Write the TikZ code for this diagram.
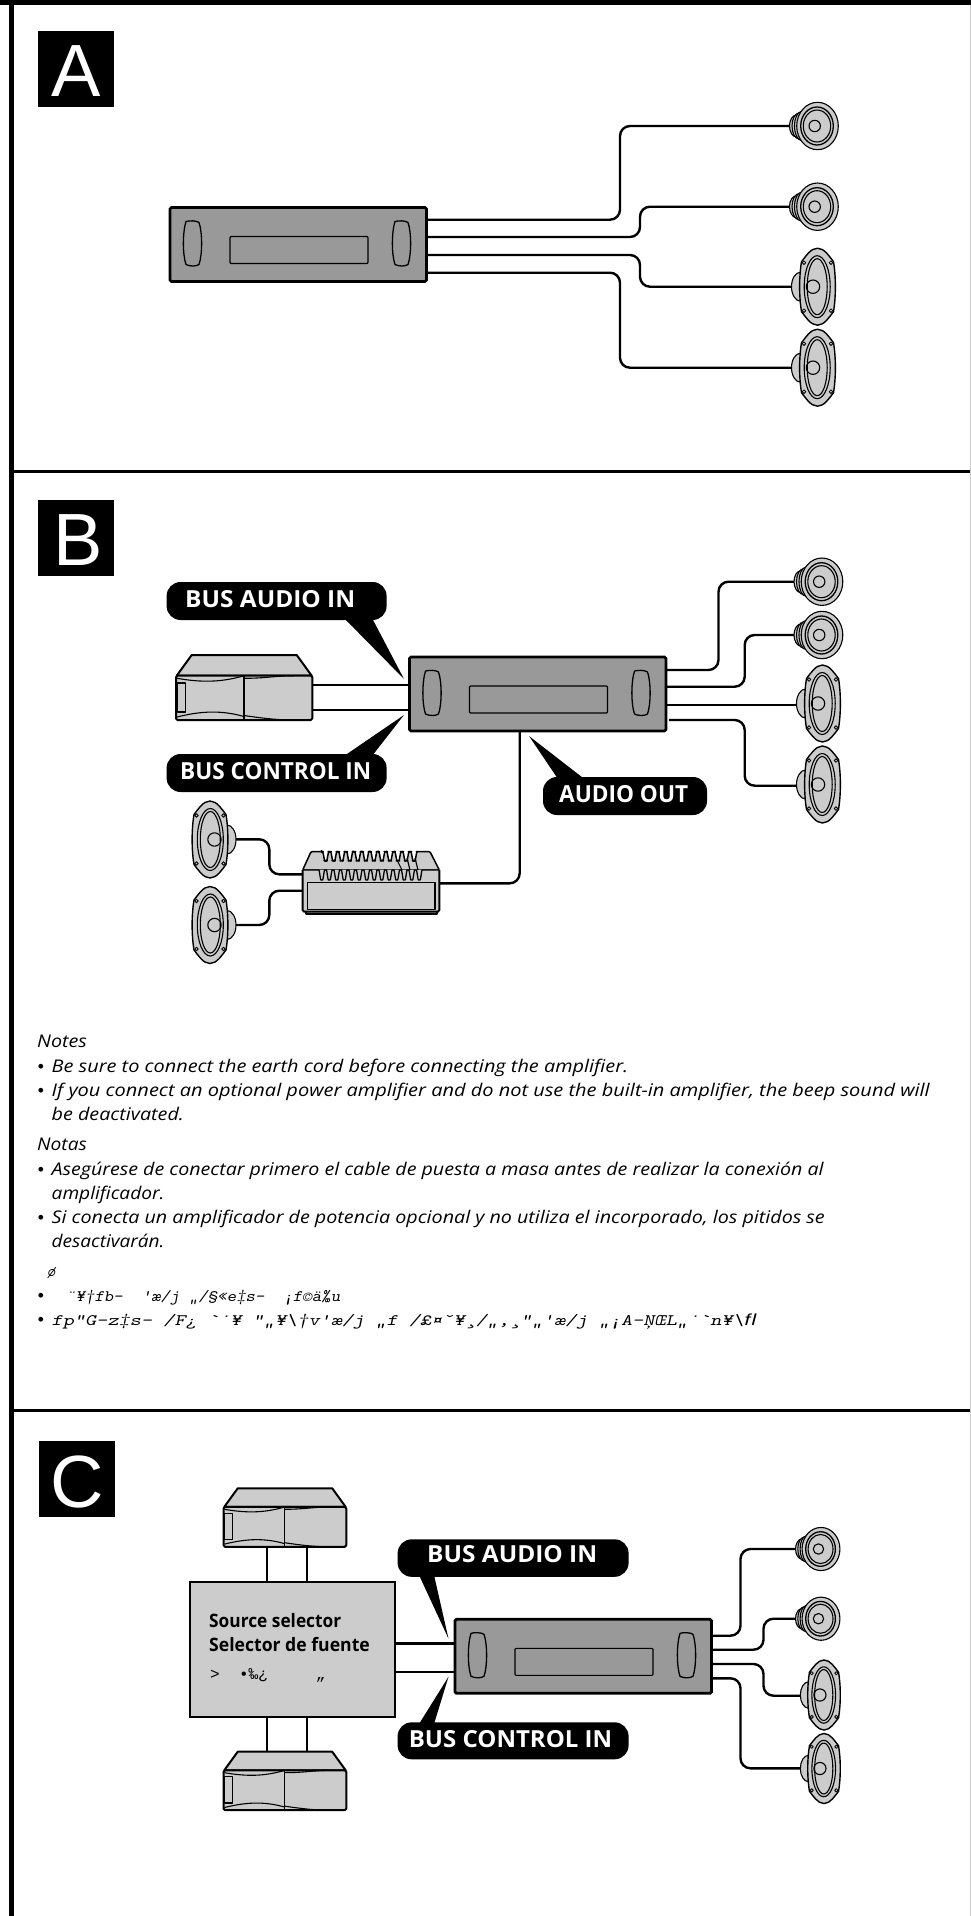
\documentclass[tikz,border=0pt]{standalone}
\usepackage{fontspec}
\usepackage{graphicx}
\setmainfont{Open Sans}
\newfontfamily\helvf{Liberation Sans}
\newfontfamily\monof{Liberation Mono}
\definecolor{darkg}{HTML}{999999}
\definecolor{lightg}{HTML}{CCCCCC}
\newcommand\noteline[5]{\node[notetext,anchor=base west] (#1) at (#2,#3) {\resizebox{#4pt}{\height}{#5}};}
\newcommand\calltext[5]{\node[callfont,anchor=base west] (#1) at (#2,#3) {\resizebox{#4pt}{\height}{#5}};}
\tikzset{
  x=1pt,y=-1pt,
  wire/.style={line width=2.4pt,rounded corners=10pt,black},
  hvh/.style={to path={-- (#1,0 |- \tikztostart) -- (#1,0 |- \tikztotarget) -- (\tikztotarget)}},
  hline/.style={line width=2.4pt,black},
  heavy/.style={line width=2pt,black,line join=round},
  fine/.style={line width=1.1pt,black,line join=round},
  hubody/.style={draw=black,line width=2.8pt,fill=darkg,rounded corners=1.5pt,minimum width=256.5pt,minimum height=74pt,inner sep=0pt,outer sep=0pt},
  letterbox/.style={fill=black,minimum width=76pt,minimum height=76pt,inner sep=0pt,outer sep=0pt},
  letterfont/.style={white,inner sep=0pt,font=\helvf\fontsize{74}{74}\selectfont},
  callbox/.style={fill=black,rounded corners=14pt,inner sep=0pt,outer sep=0pt},
  callfont/.style={white,inner sep=0pt,font=\bfseries\fontsize{23.5}{26}\selectfont},
  notetext/.style={inner sep=0pt,font=\itshape\fontsize{17.5}{20}\selectfont},
  bulletfont/.style={inner sep=0pt,font=\helvf\fontsize{17.5}{20}\selectfont},
  garble/.style={inner sep=0pt,font=\ttfamily\slshape\fontsize{16}{20}\selectfont},
  selfont/.style={inner sep=0pt,font=\bfseries\fontsize{18.5}{22}\selectfont},
  pics/headunit/.style={code={
    \node[hubody,anchor=north west] (-body) at (0,0) {};
    \draw[fine,rounded corners=1pt] (60,29) rectangle (198,56);
    \foreach \kx in {0,209}{
      \draw[fine,line width=1.3pt] (\kx+16,14) .. controls (\kx+20,13) and (\kx+26,13) .. (\kx+29,15) .. controls (\kx+32.5,25) and (\kx+32.5,47) .. (\kx+29,57) .. controls (\kx+26,59) and (\kx+20,59) .. (\kx+16,57) .. controls (\kx+12.5,47) and (\kx+12.5,25) .. (\kx+16,14) -- cycle;
    }
  }},
  pics/roundspk/.style={code={
    \draw[fine,fill=lightg] (-21,0) ellipse [x radius=7,y radius=11];
    \draw[fine,fill=lightg] (-18.5,0) ellipse [x radius=7,y radius=13];
    \draw[fine,fill=lightg] (-16,0) ellipse [x radius=7,y radius=14.5];
    \draw[fine,fill=lightg] (0,0) ellipse [x radius=20.8,y radius=23.7];
    \draw[heavy,line width=1.3pt] (-.5,0) ellipse [x radius=16.3,y radius=19];
    \draw[fine] (-.5,0) ellipse [x radius=13.7,y radius=16];
    \draw[fine] (-2.8,0) circle [radius=5.7];
  }},
  pics/ovalspk/.style={code={
    \draw[fine,fill=lightg] (-17,0) ellipse [x radius=9,y radius=14.5];
    \draw[fine,line width=1.4pt,fill=lightg] (0,-38.5) .. controls (7,-38.5) and (12,-30) .. (16,-25) .. controls (18.5,-10) and (18.5,10) .. (16,25) .. controls (12,30) and (7,38.5) .. (0,38.5) .. controls (-7,38.5) and (-12,30) .. (-16,25) .. controls (-18.5,10) and (-18.5,-10) .. (-16,-25) .. controls (-12,-30) and (-7,-38.5) .. (0,-38.5) -- cycle;
    \draw[fine] (-.3,0) ellipse [x radius=13,y radius=31];
    \draw[fine] (-.3,0) ellipse [x radius=10,y radius=28];
    \draw[fine] (-4.5,0) circle [radius=6.7];
    \foreach \sx in {-13.5,13.5}{\foreach \sy in {-24,24}{\draw[fine,line width=.8pt] (\sx,\sy) circle [radius=1.8];}}
  }},
  pics/changer/.style={code={
    \draw[heavy,fill=lightg] (0.7,20.7) -- (15.7,0) -- (120.7,0) -- (135.7,20.7) -- cycle;
    \draw[heavy,fill=lightg,rounded corners=1.5pt] (0,20.7) rectangle (136.3,65);
    \draw[fine] (68,20.7) -- (68,65);
    \draw[fine] (1,23.3) .. controls (25,27.5) and (45,27.5) .. (68,20.7);
    \draw[fine] (68,23.3) .. controls (90,23.3) and (100,20.7) .. (118,20.7);
    \draw[fine] (1,62) .. controls (25,56) and (45,55) .. (68,61.5);
    \draw[fine] (68,60.5) .. controls (85,63) and (100,65) .. (118,65);
    \draw[fine] (1.3,28) rectangle (9.7,57);
  }},
}
\begin{document}
\begin{tikzpicture}
\useasboundingbox (0,0) rectangle (971,1916);
% page frame
\fill[black] (0,0) rectangle (971,5);
\fill[black] (9,0) rectangle (14,1916);
\fill[black] (14,469.5) rectangle (971,472.5);
\fill[black] (14,1409.2) rectangle (971,1412.2);
\fill[lightg] (969.8,5) rectangle (971,1916);
% letters
\node[letterbox,anchor=north west] (boxA) at (38,31) {};
\node[letterfont,anchor=base] (letA) at (76,97) {A};
\node[letterbox,anchor=north west] (boxB) at (38,500) {};
\node[letterfont,anchor=base] (letB) at (78,565) {B};
\node[letterbox,anchor=north west] (boxC) at (39,1441) {};
\node[letterfont,anchor=base] (letC) at (77,1507) {C};

% ---------- A ----------
\coordinate (a1) at (426,219.7); \coordinate (sa1) at (792,126);
\coordinate (a2) at (426,237);   \coordinate (sa2) at (792,206.7);
\coordinate (a3) at (426,255);   \coordinate (sa3) at (795,286.7);
\coordinate (a4) at (426,272.7); \coordinate (sa4) at (795,367.7);
\draw[wire] (a1) to[hvh=620] (sa1);
\draw[wire] (a2) to[hvh=640] (sa2);
\draw[wire] (a3) to[hvh=640] (sa3);
\draw[wire] (a4) to[hvh=620] (sa4);
\pic (huA) at (170,207.5) {headunit};
\pic at (817.5,126) {roundspk};
\pic at (817.5,206.7) {roundspk};
\pic at (817.5,286.7) {ovalspk};
\pic at (817.5,367.7) {ovalspk};

% ---------- B ----------
\coordinate (b1) at (666,670);   \coordinate (sb1) at (797,581.7);
\coordinate (b2) at (666,686.7); \coordinate (sb2) at (797,635);
\coordinate (b3) at (666,704.7); \coordinate (sb3) at (799,704.7);
\coordinate (b4) at (669,720);   \coordinate (sb4) at (799,785.7);
\draw[wire] (b1) to[hvh=718.5] (sb1);
\draw[wire] (b2) to[hvh=744.7] (sb2);
\draw[hline] (b3) -- (sb3);
\draw[wire] (b4) to[hvh=744.7] (sb4);
\coordinate (cw1) at (312,685); \coordinate (cb1) at (409.5,685);
\coordinate (cw2) at (312,710); \coordinate (cb2) at (409.5,710);
\draw[hline] (cw1) -- (cb1);
\draw[hline] (cw2) -- (cb2);
\coordinate (amp1) at (303,874.3); \coordinate (sl1) at (236,839.3);
\coordinate (amp2) at (303,890.7); \coordinate (sl2) at (236,925);
\draw[wire] (amp1) to[hvh=269.3] (sl1);
\draw[wire] (amp2) to[hvh=269.3] (sl2);
\coordinate (amp3) at (439,883.3); \coordinate (bdown) at (519.7,731);
\draw[wire] (amp3) -| (bdown);
\pic (huB) at (409.5,657) {headunit};
\pic at (822,581.7) {roundspk};
\pic at (822,635) {roundspk};
\pic at (822.5,703.5) {ovalspk};
\pic at (822.5,784.5) {ovalspk};
\pic (chB) at (176,655) {changer};
% amplifier
\draw[heavy,line width=1.5pt,fill=lightg,rounded corners=1pt] (302.7,870) -- (311,851.7) -- (321.7,851.7) -- plot[domain=321.7:418,samples=300,sharp plot] (\x,{856.2-4.7*min(1,max(-1,1.5*cos((\x-321.7)*12/96.3*360)))}) -- (430,851.7) -- (439.3,870) -- cycle;
\draw[heavy,fill=lightg] (305.5,909) -- (305.5,914) -- (436.6,914) -- (436.6,909);
\fill[lightg] (302.7,870) rectangle (439.3,911.7);
\draw[heavy,rounded corners=1.5pt] (302.7,870) -- (302.7,911.7) -- (439.3,911.7) -- (439.3,870);
\draw[heavy,line width=1.5pt] (307.7,882.7) rectangle (435,909.3);
\draw[heavy,line width=1.3pt] (302.7,870) -- (318,870) -- plot[domain=318:423,samples=320,sharp plot] (\x,{875-5*min(1,max(-1,1.5*cos((\x-318)*14/105*360)))}) -- (439.3,870);
\draw[fine] (397,860) -- (402,870);
\draw[fine] (407,858) -- (410,870);
\draw[fine] (415,858) -- (418,870);
\pic[xscale=-1] at (210,839.5) {ovalspk};
\pic[xscale=-1] at (210,925) {ovalspk};
% callouts
\node[callbox,anchor=north west,minimum width=220pt,minimum height=38pt] (c1) at (166.6,582) {};
\fill[black] (344,618) -- (404,679) -- (372,618) -- cycle;
\calltext{c1t}{185}{607.7}{170}{BUS AUDIO IN}
\node[callbox,anchor=north west,minimum width=220pt,minimum height=38pt] (c2) at (166.6,754) {};
\fill[black] (344,756) -- (404,715) -- (372,756) -- cycle;
\calltext{c2t}{180}{779.5}{191}{BUS CONTROL IN}
\node[callbox,anchor=north west,minimum width=164pt,minimum height=38pt] (c3) at (543,777) {};
\fill[black] (558,779) -- (529,736) -- (584.4,779) -- cycle;
\calltext{c3t}{559}{802.5}{129}{AUDIO OUT}

% ---------- notes ----------
\noteline{n1}{37}{1047.7}{49.7}{Notes}
\noteline{n2}{51.5}{1072.7}{576.5}{Be sure to connect the earth cord before connecting the amplifier.}
\noteline{n3}{51.5}{1096.7}{878}{If you connect an optional power amplifier and do not use the built-in amplifier, the beep sound will}
\noteline{n4}{51.5}{1120.7}{132.2}{be deactivated.}
\noteline{n5}{37}{1150.7}{49.7}{Notas}
\noteline{n6}{51.5}{1175}{772}{Asegúrese de conectar primero el cable de puesta a masa antes de realizar la conexión al}
\noteline{n7}{51.5}{1199}{112.8}{amplificador.}
\noteline{n8}{51.5}{1223}{773.2}{Si conecta un amplificador de potencia opcional y no utiliza el incorporado, los pitidos se}
\noteline{n9}{51.5}{1247}{112.8}{desactivarán.}
\node[bulletfont,anchor=base] (b2b) at (41,1072.7) {•};
\node[bulletfont,anchor=base] (b3b) at (41,1096.7) {•};
\node[bulletfont,anchor=base] (b6b) at (41,1175) {•};
\node[bulletfont,anchor=base] (b8b) at (41,1223) {•};
\node[garble,anchor=base west] (g0) at (47,1276.5) {ø};
\node[bulletfont,anchor=base] (b10) at (41,1301.7) {•};
\node[bulletfont,anchor=base] (b11) at (41,1325.7) {•};
\node[garble,anchor=base west] (g1) at (66,1301.7) {\resizebox{274pt}{\height}{¨¥†ƒb–~~'æ/j~„/§«e‡s–~~¡ƒ©ä‰u}};
\node[garble,anchor=base west] (g2) at (51.5,1325.7) {\resizebox{705pt}{\height}{ƒp"G–z‡s–~/F¿~`˙¥~"„¥\textbackslash †v'æ/j~„ƒ~/£¤ˇ¥¸/„,¸"„'æ/j~„¡A–ŅŒL„˙`n¥\textbackslash{\monof\itshape ﬂ}}};

% ---------- C ----------
\coordinate (st1) at (266.7,1547); \coordinate (ss1) at (266.7,1582);
\coordinate (st2) at (307,1547);   \coordinate (ss2) at (307,1582);
\coordinate (sb1c) at (266.7,1717); \coordinate (sd1) at (266.7,1752);
\coordinate (sb2c) at (307,1717);   \coordinate (sd2) at (307,1752);
\coordinate (sr1) at (395,1643.3); \coordinate (hc1) at (455,1643.3);
\coordinate (sr2) at (395,1672);   \coordinate (hc2) at (455,1672);
\draw[hline] (st1) -- (ss1);
\draw[hline] (st2) -- (ss2);
\draw[hline] (sb1c) -- (sd1);
\draw[hline] (sb2c) -- (sd2);
\draw[hline] (sr1) -- (hc1);
\draw[hline] (sr2) -- (hc2);
\coordinate (c1o) at (711.6,1635.7); \coordinate (sc1) at (799,1549);
\coordinate (c2o) at (711.6,1649.7); \coordinate (sc2) at (799,1618.7);
\coordinate (c3o) at (711.6,1664);   \coordinate (sc3) at (804,1695.7);
\coordinate (c4o) at (711.6,1678.3); \coordinate (sc4) at (804,1768.3);
\draw[wire] (c1o) to[hvh=740.5] (sc1);
\draw[wire] (c2o) to[hvh=763.5] (sc2);
\draw[wire] (c3o) to[hvh=763.5] (sc3);
\draw[wire] (c4o) to[hvh=740.5] (sc4);
\pic (huC) at (455,1619.3) {headunit};
\pic[scale=.9] (chT) at (223.6,1488.3) {changer};
\pic[scale=.9] (chU) at (223.6,1751.7) {changer};
\node[draw=black,line width=2.4pt,fill=lightg,anchor=north west,minimum width=204.8pt,minimum height=134.7pt,inner sep=0pt,outer sep=0pt] (sel) at (190,1582) {};
\node[selfont,anchor=base west] (sel1) at (209,1627.7) {\resizebox{132pt}{\height}{Source selector}};
\node[selfont,anchor=base west] (sel2) at (209,1651.7) {\resizebox{160.6pt}{\height}{Selector de fuente}};
\node[inner sep=0pt,font=\monof\fontsize{16}{20}\selectfont,anchor=base west] (sel3) at (210,1679) {>~~•‰¿~~~~~„};
\pic[scale=.91] at (821,1549) {roundspk};
\pic[scale=.91] at (821,1618.7) {roundspk};
\pic[scale=.91] at (824,1695) {ovalspk};
\pic[scale=.91] at (824,1768.5) {ovalspk};
\node[callbox,anchor=north west,minimum width=231pt,minimum height=37.5pt] (c4) at (397.6,1539.3) {};
\fill[black] (419,1575) -- (448.5,1638.7) -- (434,1575) -- cycle;
\calltext{c4t}{427}{1562.7}{170}{BUS AUDIO IN}
\node[callbox,anchor=north west,minimum width=231pt,minimum height=37pt] (c5) at (397.6,1722.3) {};
\fill[black] (419,1724) -- (448.5,1676.7) -- (434,1724) -- cycle;
\calltext{c5t}{408.6}{1747.3}{203.4}{BUS CONTROL IN}
\end{tikzpicture}
\end{document}
